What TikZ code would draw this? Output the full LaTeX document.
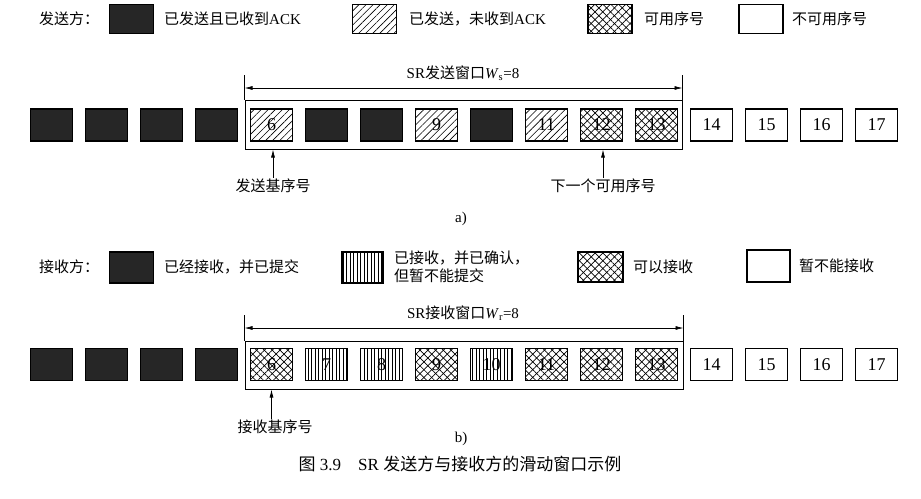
\documentclass[tikz,border=0pt]{standalone}
\usepackage{fontspec}
\setmainfont{Liberation Serif}
\newfontfamily\cjk{Noto Sans CJK SC}
\usetikzlibrary{arrows.meta, patterns.meta}

\tikzset{
    cell/.style={draw, line width=1.1pt, minimum width=42pt, minimum height=32pt,
        inner sep=0pt, font=\fontsize{18}{18}\selectfont},
    key/.style={minimum width=44pt, minimum height=29pt},
    acked/.style={cell, fill=black!85},
    sent/.style={cell, pattern={Lines[angle=45, distance=5pt, line width=0.6pt]}},
    avail/.style={cell,
        preaction={pattern={Lines[angle=45, distance=5.5pt, line width=0.7pt]}},
        pattern={Lines[angle=-45, distance=5.5pt, line width=0.7pt]}},
    held/.style={cell, pattern={Lines[angle=90, distance=3.5pt, line width=0.6pt]}},
    idle/.style={cell, fill=white},
    window/.style={draw, line width=1pt, inner sep=0pt},
    note/.style={font=\cjk\fontsize{15}{18}\selectfont, inner sep=1pt},
}

\begin{document}
\begin{tikzpicture}[x=1pt, y=-1pt, >={Latex[length=8pt, width=4pt]}]
        \useasboundingbox (0,0) rectangle (921,498);
        % --- SETTINGS ---
        \def\cellX{51.5}
        \def\pitch{55}

        % =========================================
        % PART (a) SENDER
        % =========================================
        % Legend
        \node[note, anchor=west] (sndHead) at (38,19) {发送方：};
        \node[acked, key] (keyA1) at (131.5,19) {};
        \node[note, anchor=west] (txtA1) at (163,19) {已发送且已收到\rmfamily ACK};
        \node[sent, key] (keyA2) at (374.5,19) {};
        \node[note, anchor=west] (txtA2) at (408,19) {已发送，未收到\rmfamily ACK};
        \node[avail, key] (keyA3) at (610,19) {};
        \node[note, anchor=west] (txtA3) at (643,19) {可用序号};
        \node[idle, key] (keyA4) at (761,19) {};
        \node[note, anchor=west] (txtA4) at (791,19) {不可用序号};

        % Window
        \node[window, minimum width=437pt, minimum height=49pt] (winA) at (463.5,124.5) {};
        \draw[line width=1pt] (winA.north west) -- (winA.north west |- 0,75);
        \draw[line width=1pt] (winA.north east) -- (winA.north east |- 0,75);
        \draw[<->, line width=0.7pt] (winA.north west |- 0,88) -- (winA.north east |- 0,88);
        \node[note] (winAlbl) at (463,73) {{\rmfamily SR}发送窗口\rmfamily\textit{W}\textsubscript{s}=8};

        % Sequence numbers
        \foreach \n/\kind/\txt [count=\i from 0] in {2/acked/{}, 3/acked/{}, 4/acked/{}, 5/acked/{},
                6/sent/6, 7/acked/{}, 8/acked/{}, 9/sent/9, 10/acked/{}, 11/sent/11,
                12/avail/12, 13/avail/13, 14/idle/14, 15/idle/15, 16/idle/16, 17/idle/17} {
            \node[\kind] (s\n) at ({\cellX+\pitch*\i}, 125) {\txt};
        }

        % Pointers
        \node[note] (baseA) at (273,186) {发送基序号};
        \draw[->, line width=0.7pt] (baseA.north) -- (baseA.north |- winA.south);
        \node[note] (nextA) at (603,186) {下一个可用序号};
        \draw[->, line width=0.7pt] (nextA.north) -- (nextA.north |- winA.south);

        \node[font=\fontsize{15}{15}\selectfont] (capA) at (461,219) {a)};

        % =========================================
        % PART (b) RECEIVER
        % =========================================
        % Legend
        \node[note, anchor=west] (rcvHead) at (38,267) {接收方：};
        \node[acked, key, minimum height=31pt] (keyB1) at (131.5,267.5) {};
        \node[note, anchor=west] (txtB1) at (163,267) {已经接收，并已提交};
        \node[held, key, minimum width=41pt, minimum height=31pt] (keyB2) at (362.5,267.5) {};
        \node[note, anchor=west, align=left] (txtB2) at (393,267) {已接收，并已确认，\\但暂不能提交};
        \node[avail, key, minimum width=45pt, minimum height=30pt] (keyB3) at (600.5,267) {};
        \node[note, anchor=west] (txtB3) at (632,267) {可以接收};
        \node[idle, key, minimum width=43pt, minimum height=32pt] (keyB4) at (768.5,266) {};
        \node[note, anchor=west] (txtB4) at (798,266) {暂不能接收};

        % Window
        \node[window, minimum width=438pt, minimum height=48pt] (winB) at (464,365) {};
        \draw[line width=1pt] (winB.north west) -- (winB.north west |- 0,315);
        \draw[line width=1pt] (winB.north east) -- (winB.north east |- 0,315);
        \draw[<->, line width=0.7pt] (winB.north west |- 0,328) -- (winB.north east |- 0,328);
        \node[note] (winBlbl) at (463,313) {{\rmfamily SR}接收窗口\rmfamily\textit{W}\textsubscript{r}=8};

        % Sequence numbers
        \foreach \n/\kind/\txt [count=\i from 0] in {2/acked/{}, 3/acked/{}, 4/acked/{}, 5/acked/{},
                6/avail/6, 7/held/7, 8/held/8, 9/avail/9, 10/held/10, 11/avail/11,
                12/avail/12, 13/avail/13, 14/idle/14, 15/idle/15, 16/idle/16, 17/idle/17} {
            \node[\kind] (r\n) at ({\cellX+\pitch*\i}, 364.5) {\txt};
        }

        % Pointer
        \node[note] (baseB) at (275,427) {接收基序号};
        \draw[->, line width=0.7pt] (baseB.north -| r6) -- (r6 |- winB.south);

        \node[font=\fontsize{15}{15}\selectfont] (capB) at (461,439) {b)};

        % Caption
        \node[font=\fontsize{17}{17}\selectfont] (fig) at (460,464)
            {{\cjk 图}~3.9\quad SR~{\cjk 发送方与接收方的滑动窗口示例}};
\end{tikzpicture}
\end{document}
